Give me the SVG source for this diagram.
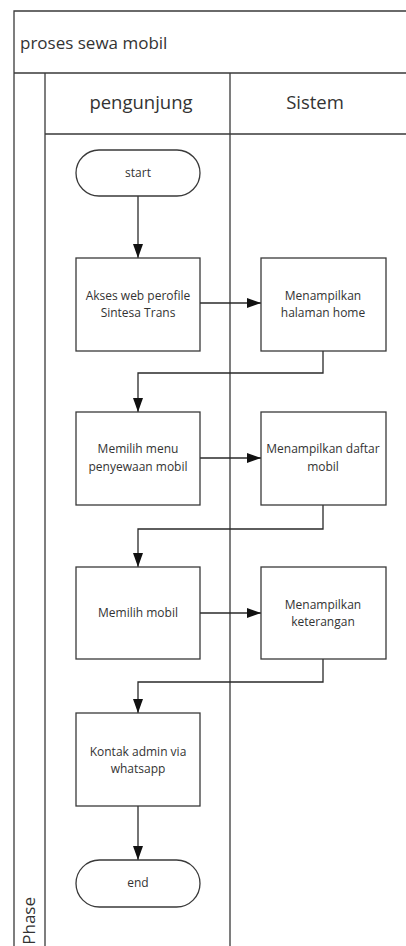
<svg xmlns="http://www.w3.org/2000/svg" width="406" height="946" viewBox="0 0 406 946">
<defs>
<style>
.frame{fill:none;stroke:#3a3a3a;stroke-width:1.3}
.shape{fill:#ffffff;stroke:#3a3a3a;stroke-width:1.3}
.conn{fill:none;stroke:#2a2a2a;stroke-width:1.3}
.lbl{font-family:"Open Sans","Noto Sans",sans-serif;font-size:12px;fill:#333;text-anchor:middle}
.hdr{font-family:"Open Sans","Noto Sans",sans-serif;font-size:18.5px;fill:#333}
</style>
<marker id="arr" markerUnits="userSpaceOnUse" markerWidth="15" markerHeight="11" refX="14" refY="5" orient="auto">
<path d="M0,0 L14,5 L0,10 z" fill="#111"/>
</marker>
</defs>
<rect width="406" height="946" fill="#ffffff"/>
<g id="pool">
<path class="frame" d="M14,946 V11 H406 M14,73 H406 M45,946 V73 M45,134 H406 M230,73 V946"/>
<text class="hdr" style="font-size:17px" x="20" y="49">proses sewa mobil</text>
<text class="hdr" x="141" y="109" text-anchor="middle">pengunjung</text>
<text class="hdr" x="315" y="109" text-anchor="middle">Sistem</text>
<text class="hdr" style="font-size:17px" transform="translate(35,897) rotate(-90)" text-anchor="end">Phase</text>
</g>
<g id="connectors">
<path class="conn" d="M138,196 V258" marker-end="url(#arr)"/>
<path class="conn" d="M200,303 H261" marker-end="url(#arr)"/>
<path class="conn" d="M323,351 V373 H138 V412" marker-end="url(#arr)"/>
<path class="conn" d="M200,458 H261" marker-end="url(#arr)"/>
<path class="conn" d="M323,505 V529 H138 V567" marker-end="url(#arr)"/>
<path class="conn" d="M200,613 H261" marker-end="url(#arr)"/>
<path class="conn" d="M323,659 V682 H138 V713" marker-end="url(#arr)"/>
<path class="conn" d="M138,806 V860" marker-end="url(#arr)"/>
</g>
<g id="start">
<rect class="shape" x="76" y="150" width="124" height="46" rx="23"/>
<text class="lbl" x="138" y="177">start</text>
</g>
<g id="akses">
<rect class="shape" x="76" y="258" width="124" height="93"/>
<text class="lbl" x="138" y="300">Akses web perofile</text>
<text class="lbl" x="138" y="317">Sintesa Trans</text>
</g>
<g id="home">
<rect class="shape" x="261" y="258" width="125" height="93"/>
<text class="lbl" x="323" y="300">Menampilkan</text>
<text class="lbl" x="323" y="317">halaman home</text>
</g>
<g id="menu">
<rect class="shape" x="76" y="412" width="124" height="93"/>
<text class="lbl" x="138" y="453">Memilih menu</text>
<text class="lbl" x="138" y="471">penyewaan mobil</text>
</g>
<g id="daftar">
<rect class="shape" x="261" y="412" width="125" height="93"/>
<text class="lbl" x="323" y="453">Menampilkan daftar</text>
<text class="lbl" x="323" y="471">mobil</text>
</g>
<g id="pilih">
<rect class="shape" x="76" y="567" width="124" height="92"/>
<text class="lbl" x="138" y="617">Memilih mobil</text>
</g>
<g id="keterangan">
<rect class="shape" x="261" y="567" width="125" height="92"/>
<text class="lbl" x="323" y="609">Menampilkan</text>
<text class="lbl" x="323" y="626">keterangan</text>
</g>
<g id="kontak">
<rect class="shape" x="76" y="713" width="124" height="93"/>
<text class="lbl" x="138" y="756">Kontak admin via</text>
<text class="lbl" x="138" y="773">whatsapp</text>
</g>
<g id="end">
<rect class="shape" x="76" y="860" width="124" height="47" rx="23.5"/>
<text class="lbl" x="138" y="887">end</text>
</g>
</svg>
